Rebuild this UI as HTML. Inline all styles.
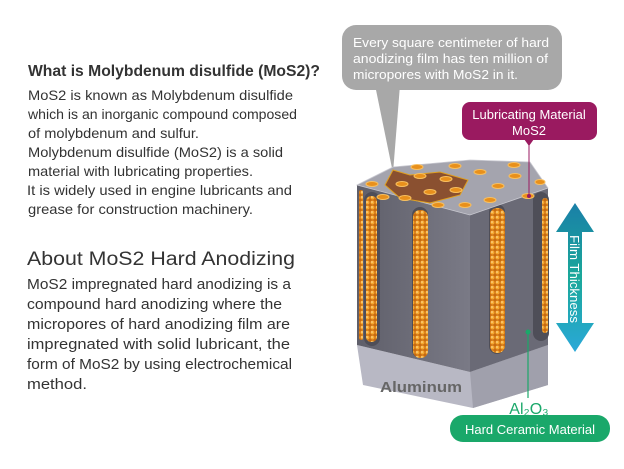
<!DOCTYPE html>
<html><head><meta charset="utf-8"><style>
html,body{margin:0;padding:0;background:#fff;}
svg{display:block;}
text{font-family:"Liberation Sans",sans-serif;}
</style></head><body>
<svg width="624" height="469" viewBox="0 0 624 469" xmlns="http://www.w3.org/2000/svg">
<defs>
<linearGradient id="arr" x1="0" y1="0" x2="0" y2="1"><stop offset="0" stop-color="#1a7fa8"/><stop offset="0.5" stop-color="#1aa89a"/><stop offset="1" stop-color="#2aa8d8"/></linearGradient>
<pattern id="dots" width="5" height="5" patternUnits="userSpaceOnUse"><rect width="5" height="5" fill="#c86a10"/><circle cx="2.5" cy="2.5" r="2" fill="#f5a830"/><circle cx="2" cy="2" r="0.8" fill="#ffe0a0"/></pattern>
<linearGradient id="face" x1="0" y1="0" x2="1" y2="0"><stop offset="0" stop-color="#5f5f6a"/><stop offset="1" stop-color="#7a7a86"/></linearGradient>
</defs>
<g fill="#333">
<text x="28" y="76" font-size="16" font-weight="bold" textLength="292" lengthAdjust="spacingAndGlyphs">What is Molybdenum disulfide (MoS2)?</text>
<g font-size="14">
<text x="28" y="100" textLength="265" lengthAdjust="spacingAndGlyphs">MoS2 is known as Molybdenum disulfide</text>
<text x="28" y="119" textLength="269" lengthAdjust="spacingAndGlyphs">which is an inorganic compound composed</text>
<text x="28" y="138" textLength="171" lengthAdjust="spacingAndGlyphs">of molybdenum and sulfur.</text>
<text x="28" y="157" textLength="255" lengthAdjust="spacingAndGlyphs">Molybdenum disulfide (MoS2) is a solid</text>
<text x="28" y="176" textLength="225" lengthAdjust="spacingAndGlyphs">material with lubricating properties.</text>
<text x="27" y="195" textLength="265" lengthAdjust="spacingAndGlyphs">It is widely used in engine lubricants and</text>
<text x="28" y="214" textLength="225" lengthAdjust="spacingAndGlyphs">grease for construction machinery.</text>
</g>
<text x="27" y="265" font-size="19" textLength="268" lengthAdjust="spacingAndGlyphs">About MoS2 Hard Anodizing</text>
<g font-size="14.5">
<text x="27" y="289" textLength="264" lengthAdjust="spacingAndGlyphs">MoS2 impregnated hard anodizing is a</text>
<text x="27" y="309" textLength="255" lengthAdjust="spacingAndGlyphs">compound hard anodizing where the</text>
<text x="27" y="329" textLength="263" lengthAdjust="spacingAndGlyphs">micropores of hard anodizing film are</text>
<text x="27" y="349" textLength="263" lengthAdjust="spacingAndGlyphs">impregnated with solid lubricant, the</text>
<text x="27" y="369" textLength="265" lengthAdjust="spacingAndGlyphs">form of MoS2 by using electrochemical</text>
<text x="27" y="389" textLength="60" lengthAdjust="spacingAndGlyphs">method.</text>
</g>
</g>
<polygon points="375,85 393,173 400,85" fill="#a8a8a8"/>
<rect x="342" y="25" width="220" height="65" rx="14" fill="#a8a8a8"/>
<g fill="#fff" font-size="13"><text x="353" y="47" textLength="196" lengthAdjust="spacingAndGlyphs">Every square centimeter of hard</text>
<text x="353" y="63" textLength="195" lengthAdjust="spacingAndGlyphs">anodizing film has ten million of</text>
<text x="353" y="79" textLength="165" lengthAdjust="spacingAndGlyphs">micropores with MoS2 in it.</text></g>
<polygon points="357,345 470,372 548,345 548,385 473,408 363,385" fill="#b8b8c4"/>
<polygon points="470,372 548,345 548,385 473,408" fill="#a0a0ac"/>
<text x="380" y="392" font-size="15" font-weight="bold" fill="#666" textLength="82" lengthAdjust="spacingAndGlyphs">Aluminum</text>
<polygon points="357,185 470,215 470,372 357,345" fill="url(#face)"/>
<polygon points="470,215 548,188 548,345 470,372" fill="#6a6a76"/>
<g stroke="#4e4e58" stroke-width="16" fill="none" stroke-linecap="round">
<line x1="372" y1="200" x2="372" y2="338"/><line x1="420" y1="215" x2="420" y2="350"/><line x1="497" y1="212" x2="497" y2="346"/><line x1="541" y1="200" x2="541" y2="333"/>
</g>
<g fill="url(#dots)">
<rect x="366" y="196" width="11" height="146" rx="5"/>
<rect x="413" y="210" width="15" height="148" rx="7"/>
<rect x="490" y="208" width="15" height="145" rx="7"/>
<rect x="542" y="198" width="6" height="135" rx="3"/>
<rect x="359" y="190" width="4" height="150" rx="2"/>
</g>
<polygon points="357,185 393,167 470,160 530,162 548,188 470,215" fill="#a4a4ae" stroke="#c8c8d0" stroke-width="0.8"/>
<polygon points="393,170 410,175 440,172 468,180 460,195 430,203 400,198 385,185" fill="#8a5030" stroke="#e0a020" stroke-width="1"/>
<g fill="#e8901c" stroke="#f8c060" stroke-width="1">
<ellipse cx="372" cy="184" rx="6" ry="2.5"/><ellipse cx="402" cy="184" rx="6" ry="2.5"/><ellipse cx="420" cy="176" rx="6" ry="2.5"/><ellipse cx="446" cy="179" rx="6" ry="2.5"/><ellipse cx="430" cy="192" rx="6" ry="2.5"/><ellipse cx="456" cy="190" rx="6" ry="2.5"/><ellipse cx="405" cy="198" rx="6" ry="2.5"/><ellipse cx="417" cy="167" rx="6" ry="2.5"/><ellipse cx="455" cy="166" rx="6" ry="2.5"/><ellipse cx="480" cy="172" rx="6" ry="2.5"/><ellipse cx="498" cy="186" rx="6" ry="2.5"/><ellipse cx="515" cy="176" rx="6" ry="2.5"/><ellipse cx="528" cy="196" rx="6" ry="2.5"/><ellipse cx="514" cy="165" rx="6" ry="2.5"/><ellipse cx="490" cy="200" rx="6" ry="2.5"/><ellipse cx="465" cy="205" rx="6" ry="2.5"/><ellipse cx="438" cy="205" rx="6" ry="2.5"/><ellipse cx="383" cy="197" rx="6" ry="2.5"/><ellipse cx="540" cy="182" rx="5" ry="2.5"/>
</g>
<line x1="529" y1="140" x2="529" y2="195" stroke="#9a1a60" stroke-width="1"/>
<circle cx="529" cy="196" r="2" fill="#9a1a60"/>
<polygon points="524,139 534,139 529,146" fill="#9a1a60"/>
<rect x="462" y="102" width="135" height="38" rx="8" fill="#9a1a60"/>
<g fill="#fff" font-size="13" text-anchor="middle"><text x="529" y="119">Lubricating Material</text><text x="529" y="135">MoS2</text></g>
<polygon points="575,203 594,232 582,232 582,323 594,323 575,352 556,323 568,323 568,232 556,232" fill="url(#arr)"/>
<text x="0" y="0" transform="translate(570,235) rotate(90)" font-size="13" fill="#fff" textLength="88" lengthAdjust="spacingAndGlyphs">Film Thickness</text>
<line x1="528" y1="332" x2="528" y2="398" stroke="#1aa86a" stroke-width="1.2"/>
<circle cx="528" cy="332" r="2.5" fill="#1aa86a"/>
<text x="529" y="414" font-size="16" fill="#1aa86a" text-anchor="middle" stroke="#fff" stroke-width="3" paint-order="stroke">Al₂O₃</text>
<rect x="450" y="415" width="160" height="27" rx="13" fill="#1aa86a"/>
<text x="530" y="434" font-size="13" fill="#fff" text-anchor="middle">Hard Ceramic Material</text>
</svg>
</body></html>
